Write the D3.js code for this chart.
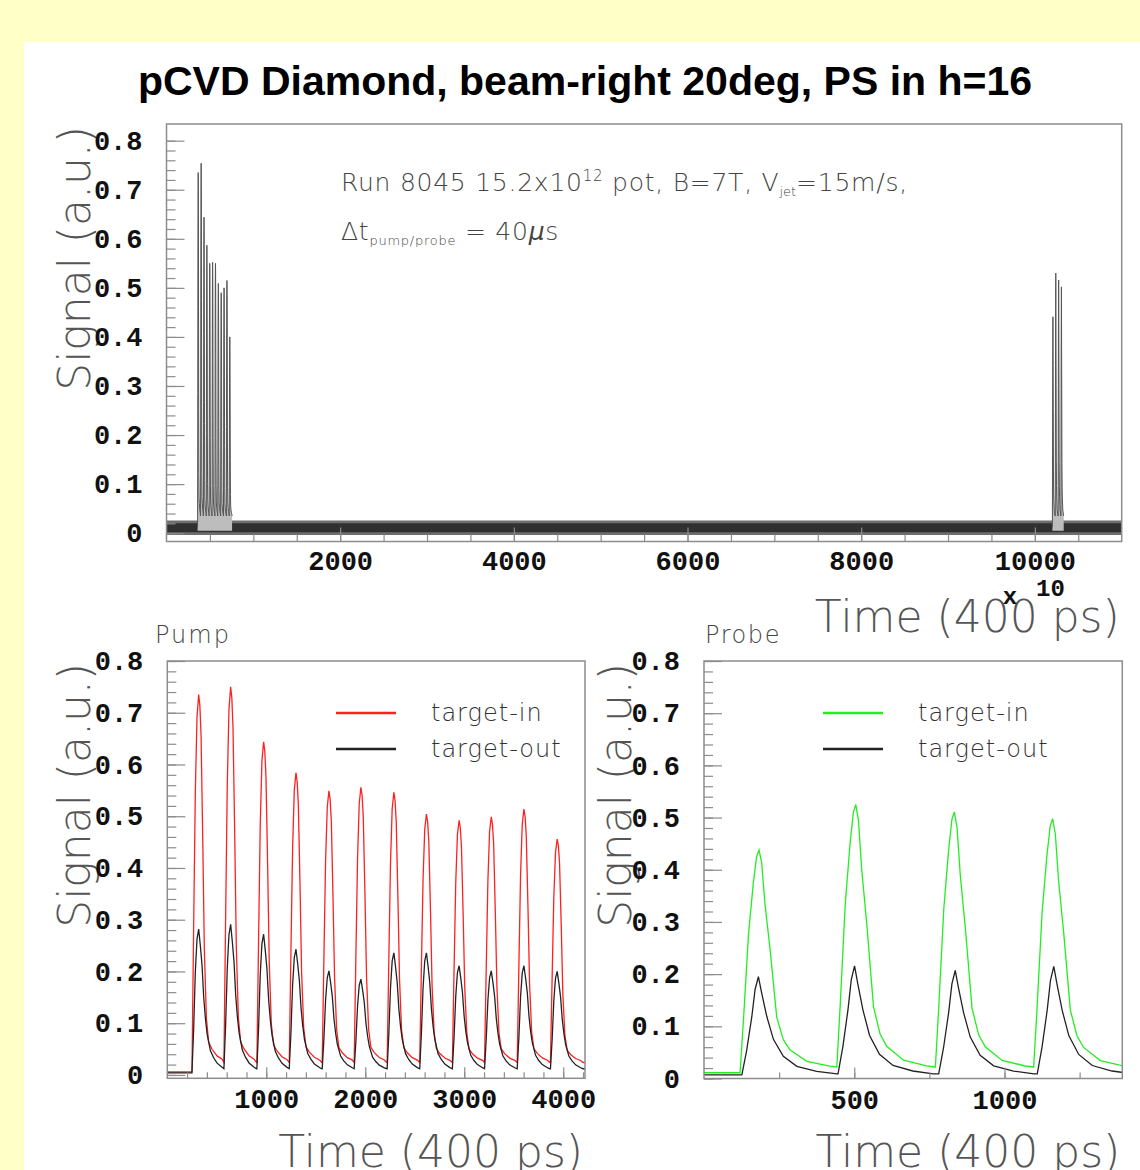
<!DOCTYPE html>
<html><head><meta charset="utf-8">
<script src="https://cdn.jsdelivr.net/npm/d3@7"></script>
<style>body{margin:0;background:#ffffc8;} svg{display:block}</style>
</head><body><svg id="c" width="1140" height="1170"></svg>
<script>
// ---------------- DATA ----------------
// Pump (bottom-left), time in 400 ps bins
const pumpInTimes  = [317, 640, 973, 1300, 1633, 1956, 2289, 2618, 2948, 3273, 3603, 3939];
const pumpInPeaks  = [0.735, 0.750, 0.644, 0.584, 0.549, 0.556, 0.546, 0.504, 0.492, 0.499, 0.514, 0.456];
const pumpOutTimes = [317, 640, 973, 1300, 1633, 1956, 2289, 2618, 2948, 3273, 3603, 3939];
const pumpOutPeaks = [0.282, 0.291, 0.272, 0.243, 0.201, 0.185, 0.236, 0.236, 0.211, 0.201, 0.211, 0.200];
// pulse profile read from the first pump pulse (offset from peak, fraction of height above baseline)
const pumpInShapeDt    = [-68, -51, -34, -17, 0, 12, 24, 41, 57, 78, 101, 135, 186, 237, 262];
const pumpInShapeFrac  = [0, 0.38, 0.74, 0.94, 1, 0.97, 0.89, 0.61, 0.31, 0.12, 0.055, 0.036, 0.018, 0.009, 0];
const pumpOutShapeDt   = [-68, -51, -34, -17, 0, 17, 34, 51, 68, 85, 118, 150, 186, 237, 262];
const pumpOutShapeFrac = [0, 0.30, 0.70, 0.93, 1, 0.88, 0.74, 0.51, 0.36, 0.25, 0.13, 0.08, 0.04, 0.01, 0];
const pumpInLevels  = [0.006, 0.024];   // before first pulse, between pulses
const pumpOutLevels = [0.004, 0.012];

// Probe (bottom-right)
const probeInTimes  = [183, 505, 833, 1160];
const probeInPeaks  = [0.438, 0.525, 0.511, 0.498];
const probeOutTimes = [181, 501, 836, 1164];
const probeOutPeaks = [0.195, 0.216, 0.207, 0.215];
const probeInShapeDt    = [-63, -52, -35, -19, -8, 0, 9, 20, 37, 59, 81, 103, 159, 236, 262];
const probeInShapeFrac  = [0, 0.23, 0.62, 0.85, 0.97, 1, 0.94, 0.75, 0.54, 0.23, 0.126, 0.079, 0.026, 0.004, 0];
const probeOutShapeDt   = [-55, -39, -22, -11, 0, 11, 28, 50, 83, 128, 194, 262];
const probeOutShapeFrac = [0, 0.25, 0.59, 0.87, 1, 0.83, 0.59, 0.355, 0.18, 0.077, 0.026, 0];
const probeInLevels  = [0.011, 0.022];
const probeOutLevels = [0.007, 0.009];

// Full trace (top), axis in units of 10 x 400 ps
const topExponent = 10;
const topPumpTimes  = [365, 399, 432, 465, 498, 531, 564, 597, 630, 663, 696, 729];
const topPumpPeaks  = [0.735, 0.754, 0.644, 0.587, 0.550, 0.552, 0.550, 0.509, 0.490, 0.500, 0.515, 0.400];
const topProbeTimes = [10208, 10241, 10274, 10306];
const topProbePeaks = [0.441, 0.530, 0.516, 0.502];
const topClusterLevels = [0.012, 0.035];
const topBandX  = [0, 11000];
const topBandLo = [-0.004, -0.004];
const topBandHi = [0.026, 0.026];
const topCoreLo = [0.002, 0.002];
const topCoreHi = [0.020, 0.020];

// Axis ticks
const topXTicks = [2000, 4000, 6000, 8000, 10000];
const pumpXTicks = [1000, 2000, 3000, 4000];
const probeXTicks = [500, 1000];
const yTicks = [0, 0.1, 0.2, 0.3, 0.4, 0.5, 0.6, 0.7, 0.8];
const yTickLabels = ["0", "0.1", "0.2", "0.3", "0.4", "0.5", "0.6", "0.7", "0.8"];

// ---------------- DRAWING ----------------
const svg = d3.select('#c');
svg.append('rect').attr('x', 24).attr('y', 42).attr('width', 1116).attr('height', 1128).attr('fill', '#fff');

const thinFont = "'DejaVu Sans ExtraLight','DejaVu Sans',sans-serif";
const monoFont = "'Liberation Mono','DejaVu Sans Mono',monospace";

svg.append('text').attr('x', 585).attr('y', 95).attr('text-anchor', 'middle')
  .style('font-family', "'Liberation Sans',Arial,sans-serif").style('font-weight', 'bold')
  .style('font-size', '41px').attr('fill', '#000')
  .text('pCVD Diamond, beam-right 20deg, PS in h=16');

function buildTrace(times, peaks, dts, fracs, levels, xStart, xEnd, scale) {
  const pre = levels[0], trough = levels[1];
  const pts = [];
  if (xStart !== null) pts.push([xStart, pre]);
  times.forEach((t, i) => {
    const before = i === 0 ? pre : trough;
    const nextStart = i < times.length - 1 ? times[i + 1] + dts[0] / scale : Infinity;
    dts.forEach((d, k) => {
      const xv = t + d / scale;
      if (xv >= nextStart) return;
      const b = d < 0 ? before : trough;
      pts.push([xv, b + fracs[k] * (peaks[i] - b)]);
    });
  });
  if (xEnd !== null) pts.push([xEnd, trough]);
  return pts;
}

let clipId = 0;
function panel(cfg) {
  const g = svg.append('g');
  const x = d3.scaleLinear().domain(cfg.xDomain).range([cfg.left, cfg.right]);
  const y = d3.scaleLinear().domain(cfg.yDomain).range([cfg.bottom, cfg.top]);
  const id = 'clip' + (clipId++);
  svg.append('clipPath').attr('id', id).append('rect')
    .attr('x', cfg.left).attr('y', cfg.top).attr('width', cfg.right - cfg.left).attr('height', cfg.bottom - cfg.top);

  g.append('text').attr('transform', `translate(${cfg.yTitleX},${cfg.top + 2}) rotate(-90)`)
    .attr('text-anchor', 'end').style('font-family', thinFont).style('font-weight', 200)
    .style('font-size', '44px').attr('fill', '#555').text('Signal (a.u.)');
  g.append('text').attr('x', cfg.right - 2).attr('y', cfg.xTitleY).attr('text-anchor', 'end')
    .style('font-family', thinFont).style('font-weight', 200)
    .style('font-size', '44px').attr('fill', '#555').text('Time (400 ps)');

  const plot = g.append('g').attr('clip-path', `url(#${id})`);

  const styleAxis = sel => {
    sel.select('.domain').remove();
    sel.selectAll('.tick line').attr('stroke', '#8c8c8c').attr('stroke-width', 1.2);
    sel.selectAll('.tick text').style('font-family', monoFont).style('font-weight', 'bold')
      .style('font-size', '27px').attr('fill', '#111');
  };
  g.append('g').attr('transform', `translate(${cfg.left},0)`)
    .call(d3.axisLeft(y).tickValues(d3.range(0, 0.8001, 0.02)).tickSize(-9).tickFormat('')).call(styleAxis);
  g.append('g').attr('transform', `translate(${cfg.left},0)`)
    .call(d3.axisLeft(y).tickValues(yTicks).tickSize(-18).tickPadding(24).tickFormat((d, i) => yTickLabels[i])).call(styleAxis);
  g.append('g').attr('transform', `translate(0,${cfg.bottom})`)
    .call(d3.axisBottom(x).tickValues(d3.range(cfg.xMinorStep, cfg.xDomain[1], cfg.xMinorStep)).tickSize(-cfg.xMinorLen).tickFormat('')).call(styleAxis);
  g.append('g').attr('transform', `translate(0,${cfg.bottom})`)
    .call(d3.axisBottom(x).tickValues(cfg.xTicks).tickSize(-cfg.xMajorLen).tickPadding(cfg.xPad).tickFormat(d3.format('d'))).call(styleAxis);

  g.append('rect').attr('x', cfg.left).attr('y', cfg.top).attr('width', cfg.right - cfg.left)
    .attr('height', cfg.bottom - cfg.top).attr('fill', 'none').attr('stroke', '#8c8c8c').attr('stroke-width', 1.5);
  return {x, y, plot, g};
}

const line = (x, y) => d3.line().x(d => x(d[0])).y(d => y(d[1]));
const thin = (t, size, sp) => t.style('font-family', thinFont).style('font-weight', 200)
  .style('font-size', size + 'px').style('letter-spacing', sp + 'px').attr('fill', '#444');

// ---- Top panel ----
const panelTop = panel({left: 166.5, right: 1121.7, top: 124, bottom: 541.5, xDomain: [0, 11000], yDomain: [-0.017, 0.834],
  xTicks: topXTicks, xMinorStep: 500, xMinorLen: 7, xMajorLen: 14, xPad: 9, yTitleX: 90, xTitleY: 632});
{
  const {x, y, plot} = panelTop;
  const band = topBandX.map((v, i) => [v, topBandLo[i], topBandHi[i]]);
  plot.append('path').datum(band).attr('fill', '#6e6e6e')
    .attr('d', d3.area().x(d => x(d[0])).y0(d => y(d[1])).y1(d => y(d[2])));
  const core = topBandX.map((v, i) => [v, topCoreLo[i], topCoreHi[i]]);
  plot.append('path').datum(core).attr('fill', '#303030')
    .attr('d', d3.area().x(d => x(d[0])).y0(d => y(d[1])).y1(d => y(d[2])));
  const pumpTr = buildTrace(topPumpTimes, topPumpPeaks, pumpInShapeDt, pumpInShapeFrac, topClusterLevels, null, null, topExponent);
  const probeTr = buildTrace(topProbeTimes, topProbePeaks, probeInShapeDt, probeInShapeFrac, topClusterLevels, null, null, topExponent);
  [pumpTr, probeTr].forEach(tr => {
    plot.append('path').datum(tr).attr('fill', '#bdbdbd')
      .attr('d', d3.area().x(d => x(d[0])).y0(y(0.005)).y1(d => y(d[1])));
    plot.append('path').datum(tr).attr('fill', 'none').attr('stroke', '#555').attr('stroke-width', 1)
      .attr('d', line(x, y));
  });
  svg.append('text').attr('x', 1010).attr('y', 604).attr('text-anchor', 'middle')
    .style('font-family', monoFont).style('font-weight', 'bold').style('font-size', '24px').attr('fill', '#111').text('x');
  svg.append('text').attr('x', 1036).attr('y', 596)
    .style('font-family', monoFont).style('font-weight', 'bold').style('font-size', '24px').attr('fill', '#111').text('10');
  const ann = svg.append('text').attr('x', 341).attr('y', 191).call(thin, 25, 0.75);
  ann.append('tspan').text('Run 8045 15.2x10');
  ann.append('tspan').attr('dy', -10).style('font-size', '15px').text('12');
  ann.append('tspan').attr('dy', 10).text(' pot, B=7T, V');
  ann.append('tspan').attr('dy', 5).style('font-size', '13px').style('letter-spacing', '0px').text('jet');
  ann.append('tspan').attr('dy', -5).text('=15m/s,');
  const ann2 = svg.append('text').attr('x', 341).attr('y', 240).call(thin, 25, 0.75);
  ann2.append('tspan').text('\u0394t');
  ann2.append('tspan').attr('dy', 5).style('font-size', '13px').text('pump/probe');
  ann2.append('tspan').attr('dy', -5).text(' = 40');
  ann2.append('tspan').style('font-style', 'italic').text('\u00b5');
  ann2.append('tspan').text('s');
}

// ---- Pump panel ----
const panelPump = panel({left: 167.3, right: 585, top: 661, bottom: 1078.3, xDomain: [0, 4220], yDomain: [-0.0065, 0.8],
  xTicks: pumpXTicks, xMinorStep: 200, xMinorLen: 6, xMajorLen: 11, xPad: 11, yTitleX: 90, xTitleY: 1167});
{
  const {x, y, plot} = panelPump;
  const tin = buildTrace(pumpInTimes, pumpInPeaks, pumpInShapeDt, pumpInShapeFrac, pumpInLevels, 0, 4220, 1);
  const tout = buildTrace(pumpOutTimes, pumpOutPeaks, pumpOutShapeDt, pumpOutShapeFrac, pumpOutLevels, 0, 4220, 1);
  plot.append('path').datum(tin).attr('fill', 'none').attr('stroke', '#ff2020').attr('stroke-width', 1.3).attr('d', line(x, y));
  plot.append('path').datum(tout).attr('fill', 'none').attr('stroke', '#222').attr('stroke-width', 1.3).attr('d', line(x, y));
  svg.append('text').attr('x', 155).attr('y', 643).call(thin, 24, 2).text('Pump');
}

// ---- Probe panel ----
const panelProbe = panel({left: 704, right: 1122.3, top: 661, bottom: 1078.5, xDomain: [0, 1392], yDomain: [0, 0.8],
  xTicks: probeXTicks, xMinorStep: 250, xMinorLen: 6, xMajorLen: 11, xPad: 11, yTitleX: 631, xTitleY: 1167});
{
  const {x, y, plot} = panelProbe;
  const tin = buildTrace(probeInTimes, probeInPeaks, probeInShapeDt, probeInShapeFrac, probeInLevels, 0, 1392, 1);
  const tout = buildTrace(probeOutTimes, probeOutPeaks, probeOutShapeDt, probeOutShapeFrac, probeOutLevels, 0, 1392, 1);
  plot.append('path').datum(tin).attr('fill', 'none').attr('stroke', '#22ee22').attr('stroke-width', 1.3).attr('d', line(x, y));
  plot.append('path').datum(tout).attr('fill', 'none').attr('stroke', '#222').attr('stroke-width', 1.3).attr('d', line(x, y));
  svg.append('text').attr('x', 705).attr('y', 643).call(thin, 24, 1.6).text('Probe');
}

// ---- Legends ----
function legend(x0, lineX1, textX, y1, y2, color) {
  const lg = svg.append('g');
  lg.append('line').attr('x1', x0).attr('x2', lineX1).attr('y1', y1).attr('y2', y1).attr('stroke', color).attr('stroke-width', 2.5);
  lg.append('line').attr('x1', x0).attr('x2', lineX1).attr('y1', y2).attr('y2', y2).attr('stroke', '#222').attr('stroke-width', 2.5);
  lg.append('text').attr('x', textX).attr('y', y1 + 8).call(thin, 24, 1).attr('fill', '#333').text('target-in');
  lg.append('text').attr('x', textX).attr('y', y2 + 8).call(thin, 24, 1).attr('fill', '#333').text('target-out');
}
legend(336, 396, 431, 713, 749, '#ff2020');
legend(823, 883, 918, 713, 749, '#22ee22');
</script></body></html>
